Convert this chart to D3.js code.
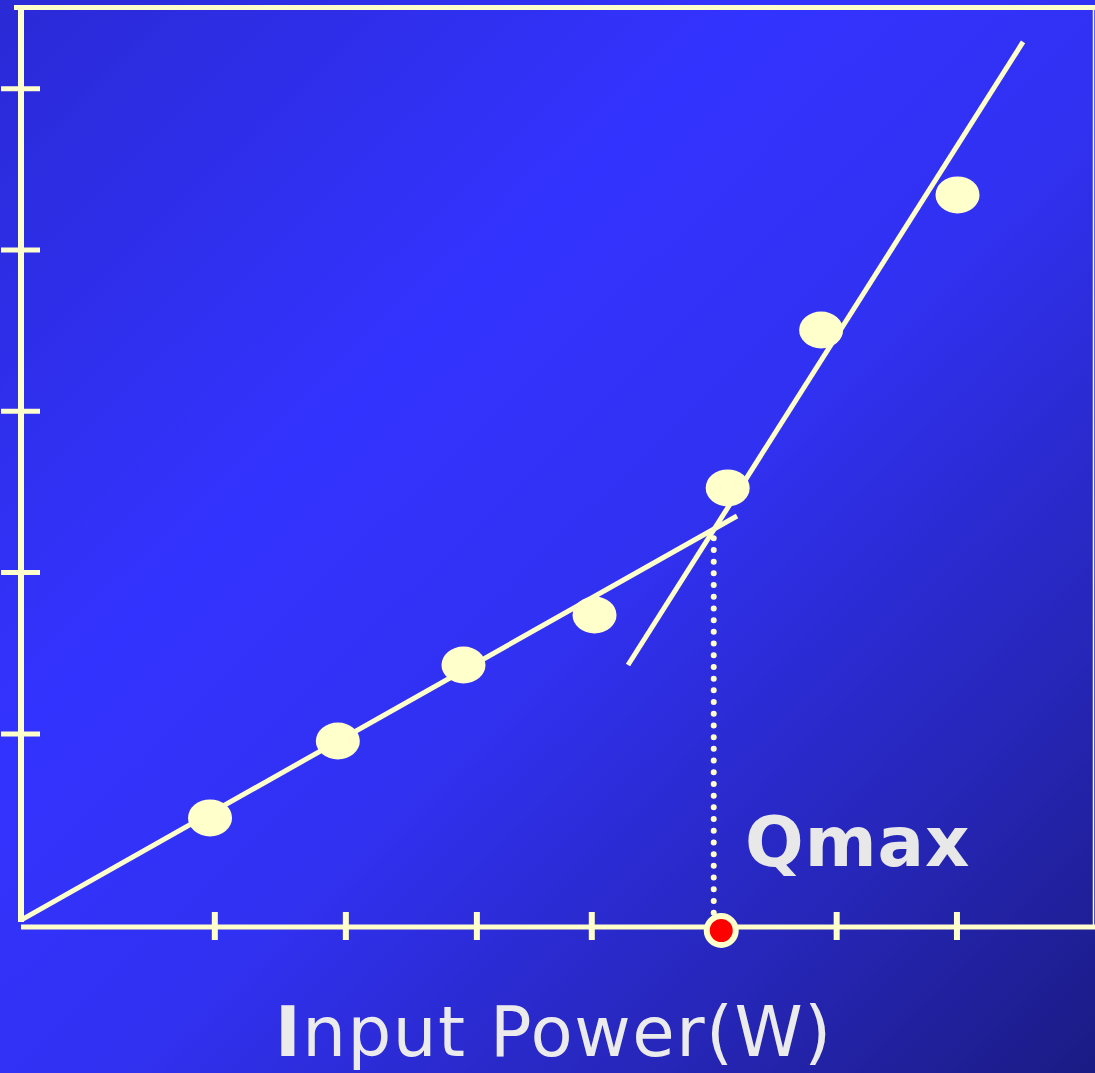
<!DOCTYPE html>
<html>
<head>
<meta charset="utf-8">
<script src="https://cdn.jsdelivr.net/npm/d3@7"></script>
<style>
  html, body { margin: 0; padding: 0; background: #2b2bd9; }
  svg { display: block; }
</style>
</head>
<body>
<div id="chart"></div>
<script>
// measured points (x = input power, y = response), arbitrary units
const pointX = [1.76, 2.95, 4.12, 5.34, 6.58, 7.45, 8.72];
const pointY = [0.676, 1.153, 1.624, 1.934, 2.722, 3.701, 4.538];

// two fitted lines: [x0, y0, x1, y1]
const lowFit = [0, 0.043, 6.667, 2.548];
const highFit = [5.652, 1.624, 9.33, 5.487];

const xTicks = [1.8, 3.02, 4.24, 5.31, 7.59, 8.71];
const yTicks = [1.2, 2.2, 3.2, 4.2, 5.2];

const qmaxX = 6.45;
const qmaxTopY = 2.41;
const qmaxDotX = 6.52;

const width = 1095;
const height = 1073;
const cream = '#ffffcc';

const svg = d3.select('#chart')
  .append('svg')
  .attr('width', width)
  .attr('height', height);

// background gradient
const grad = svg.append('defs')
  .append('linearGradient')
  .attr('id', 'bg')
  .attr('x1', 0).attr('y1', 0)
  .attr('x2', 1).attr('y2', 1);
grad.append('stop').attr('offset', 0).attr('stop-color', '#2a2ad6');
grad.append('stop').attr('offset', 0.35).attr('stop-color', '#3333ff');
grad.append('stop').attr('offset', 0.55).attr('stop-color', '#3131f2');
grad.append('stop').attr('offset', 0.8).attr('stop-color', '#2626b8');
grad.append('stop').attr('offset', 1).attr('stop-color', '#1b1b84');

svg.append('rect')
  .attr('width', width)
  .attr('height', height)
  .attr('fill', 'url(#bg)');

const x = d3.scaleLinear().domain([0, 10]).range([21, 1095]);
const y = d3.scaleLinear().domain([0, 5.7]).range([927, 7.5]);

// frame: top line and thin right edge
svg.append('line')
  .attr('x1', 14).attr('x2', width)
  .attr('y1', y(5.7)).attr('y2', y(5.7))
  .attr('stroke', cream).attr('stroke-width', 5);
svg.append('line')
  .attr('x1', 1093.5).attr('x2', 1093.5)
  .attr('y1', y(5.7)).attr('y2', y(0))
  .attr('stroke', cream).attr('stroke-width', 1.5);

// y axis line + ticks
svg.append('line')
  .attr('x1', x(0)).attr('x2', x(0))
  .attr('y1', 5).attr('y2', 922)
  .attr('stroke', cream).attr('stroke-width', 6);

const yAxis = svg.append('g')
  .attr('transform', 'translate(1,0)')
  .call(d3.axisRight(y).tickValues(yTicks).tickSize(39).tickSizeOuter(0).tickFormat(''));
yAxis.select('.domain').remove();
yAxis.selectAll('.tick line').attr('stroke', cream).attr('stroke-width', 5);

// x axis line + ticks
svg.append('line')
  .attr('x1', x(0)).attr('x2', width)
  .attr('y1', 927).attr('y2', 927)
  .attr('stroke', cream).attr('stroke-width', 5);

const xAxis = svg.append('g')
  .attr('transform', 'translate(0,912)')
  .call(d3.axisBottom(x).tickValues(xTicks).tickSize(28).tickSizeOuter(0).tickFormat(''));
xAxis.select('.domain').remove();
xAxis.selectAll('.tick line').attr('stroke', cream).attr('stroke-width', 6);

// fitted lines
svg.selectAll('line.fit')
  .data([lowFit, highFit])
  .enter()
  .append('line')
  .attr('class', 'fit')
  .attr('x1', d => x(d[0])).attr('y1', d => y(d[1]))
  .attr('x2', d => x(d[2])).attr('y2', d => y(d[3]))
  .attr('stroke', cream)
  .attr('stroke-width', 5);

// points
svg.selectAll('ellipse.pt')
  .data(pointX.map((v, i) => [v, pointY[i]]))
  .enter()
  .append('ellipse')
  .attr('class', 'pt')
  .attr('cx', d => x(d[0]))
  .attr('cy', d => y(d[1]))
  .attr('rx', 22)
  .attr('ry', 18.5)
  .attr('fill', cream);

// dotted drop line at Qmax
svg.append('line')
  .attr('x1', x(qmaxX)).attr('x2', x(qmaxX))
  .attr('y1', y(qmaxTopY)).attr('y2', 922)
  .attr('stroke', cream)
  .attr('stroke-width', 6)
  .attr('stroke-linecap', 'round')
  .attr('stroke-dasharray', '0 11.7');

svg.append('circle')
  .attr('cx', x(qmaxDotX))
  .attr('cy', 930.5)
  .attr('r', 14.5)
  .attr('fill', '#ff0000')
  .attr('stroke', cream)
  .attr('stroke-width', 6);

svg.append('text')
  .attr('x', 745)
  .attr('y', 866)
  .attr('font-family', '"DejaVu Sans", sans-serif')
  .attr('font-weight', 'bold')
  .attr('font-size', 69)
  .attr('letter-spacing', 1)
  .attr('fill', '#e8e8e8')
  .text('Qmax');

const label = svg.append('text')
  .attr('x', 275)
  .attr('y', 1056)
  .attr('font-family', '"DejaVu Sans", sans-serif')
  .attr('font-size', 69)
  .attr('letter-spacing', 1.5)
  .attr('fill', '#ebebeb');
label.append('tspan').attr('font-weight', 'bold').text('I');
label.append('tspan').text('nput Power(W)');
</script>
</body>
</html>
